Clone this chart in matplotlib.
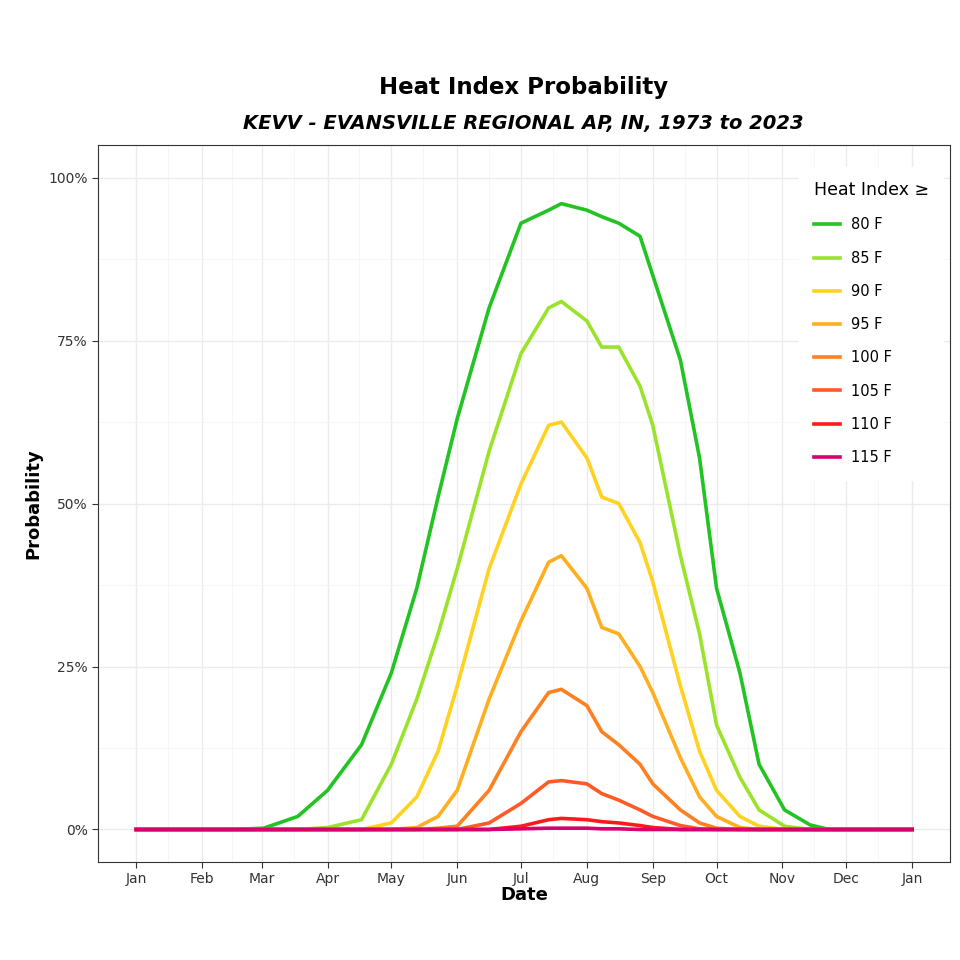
import matplotlib.pyplot as plt
import numpy as np

# day-of-year positions of curve points and probabilities (%)
days = [1, 46, 61, 77, 91, 107, 121, 133, 143, 152, 167, 182, 195, 201, 213, 220, 228, 238, 244, 257, 266, 274, 285, 294, 306, 318, 327, 366]
p80 = [0, 0, 0.2, 2, 6, 13, 24, 37, 51, 63, 80, 93, 95, 96, 95, 94, 93, 91, 85, 72, 57, 37, 24, 10, 3, 0.7, 0, 0]
p85 = [0, 0, 0, 0, 0.3, 1.5, 10, 20, 30, 40, 58, 73, 80, 81, 78, 74, 74, 68, 62, 42, 30, 16, 8, 3, 0.5, 0, 0, 0]
p90 = [0, 0, 0, 0, 0, 0, 1, 5, 12, 22, 40, 53, 62, 62.5, 57, 51, 50, 44, 38, 22, 12, 6, 2, 0.5, 0, 0, 0, 0]
p95 = [0, 0, 0, 0, 0, 0, 0, 0.3, 2, 6, 20, 32, 41, 42, 37, 31, 30, 25, 21, 11, 5, 2, 0.3, 0, 0, 0, 0, 0]
p100 = [0, 0, 0, 0, 0, 0, 0, 0, 0.2, 0.5, 6, 15, 21, 21.5, 19, 15, 13, 10, 7, 3, 1, 0.2, 0, 0, 0, 0, 0, 0]
p105 = [0, 0, 0, 0, 0, 0, 0, 0, 0, 0, 1, 4, 7.3, 7.5, 7, 5.5, 4.5, 3, 2, 0.6, 0.1, 0, 0, 0, 0, 0, 0, 0]
p110 = [0, 0, 0, 0, 0, 0, 0, 0, 0, 0, 0, 0.5, 1.5, 1.7, 1.5, 1.2, 1, 0.6, 0.3, 0, 0, 0, 0, 0, 0, 0, 0, 0]
p115 = [0, 0, 0, 0, 0, 0, 0, 0, 0, 0, 0, 0.1, 0.2, 0.2, 0.2, 0.1, 0.1, 0, 0, 0, 0, 0, 0, 0, 0, 0, 0, 0]

labels = ['80 F', '85 F', '90 F', '95 F', '100 F', '105 F', '110 F', '115 F']
colors = ['#22c322', '#9be32b', '#ffd21f', '#ffae1f', '#ff8020', '#ff5a28', '#ff1a1a', '#d6006e']
series = [p80, p85, p90, p95, p100, p105, p110, p115]

month_days = [1, 32, 60, 91, 121, 152, 182, 213, 244, 274, 305, 335, 366]
month_labels = ['Jan', 'Feb', 'Mar', 'Apr', 'May', 'Jun', 'Jul', 'Aug', 'Sep', 'Oct', 'Nov', 'Dec', 'Jan']

fig = plt.figure(figsize=(9.6, 9.6), dpi=100)
ax = fig.add_axes([0.102, 0.102, 0.888, 0.747])

for vals, lab, col in zip(series, labels, colors):
    ax.plot(days, vals, color=col, lw=2.6, label=lab, solid_joinstyle='round')

ax.set_xlim(-17, 384)
ax.set_ylim(-5, 105)
ax.set_xticks(month_days)
ax.set_xticklabels(month_labels)
ax.set_xticks([16, 46, 75, 106, 136, 167, 197, 228, 259, 289, 320, 350], minor=True)
ax.set_yticks([0, 25, 50, 75, 100])
ax.set_yticklabels(['0%', '25%', '50%', '75%', '100%'])
ax.set_yticks([12.5, 37.5, 62.5, 87.5], minor=True)
ax.grid(True, which='major', color='#ebebeb', lw=1)
ax.grid(True, which='minor', color='#f5f5f5', lw=0.6)
ax.set_axisbelow(True)
ax.tick_params(which='major', colors='#333333', labelsize=10, length=4)
ax.tick_params(which='minor', length=0)
for s in ax.spines.values():
    s.set_color('#333333')

ax.set_xlabel('Date', fontsize=13, fontweight='bold', labelpad=0)
ax.set_ylabel('Probability', fontsize=13, fontweight='bold')

leg = ax.legend(title='Heat Index ≥', loc='upper right', frameon=True, fontsize=10.5,
                title_fontsize=12.5, handlelength=1.8, labelspacing=1.25,
                borderpad=1.0, bbox_to_anchor=(1.0, 0.98))
leg.get_frame().set_edgecolor('white')
leg.get_frame().set_alpha(1)
leg._legend_box.align = 'left'

fig.text(0.545, 0.902, 'Heat Index Probability', ha='center', fontsize=16.5, fontweight='bold')
fig.text(0.545, 0.866, 'KEVV - EVANSVILLE REGIONAL AP, IN, 1973 to 2023', ha='center',
         fontsize=14, fontweight='bold', style='italic')

fig.savefig('out.png', dpi=100)
